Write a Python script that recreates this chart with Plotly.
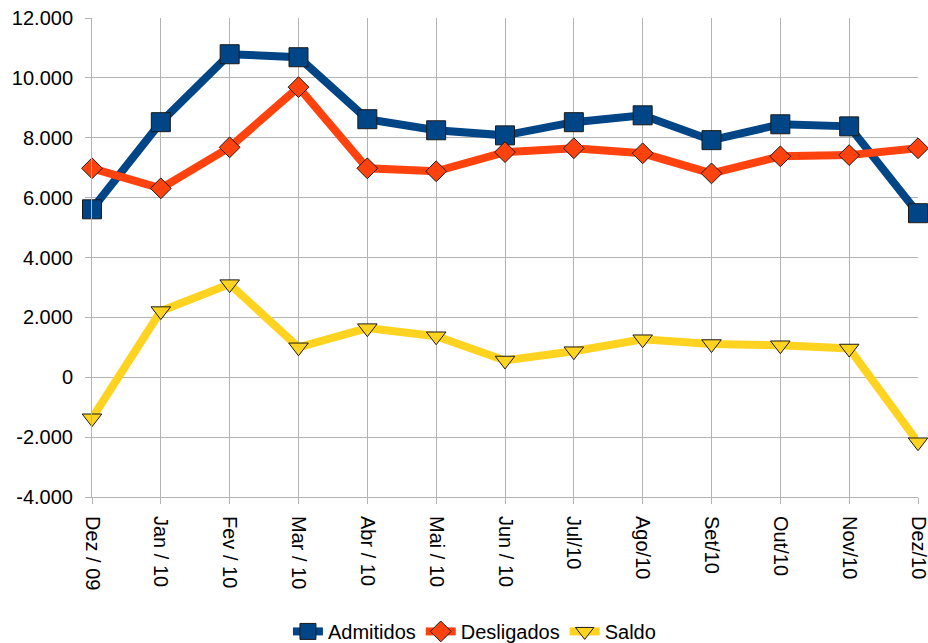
import plotly.graph_objects as go

# months on the category axis
meses = ["Dez / 09", "Jan / 10", "Fev / 10", "Mar / 10", "Abr / 10", "Mai / 10",
         "Jun / 10", "Jul/10", "Ago/10", "Set/10", "Out/10", "Nov/10", "Dez/10"]

admitidos = [5610, 8520, 10790, 10690, 8620, 8250, 8080, 8520, 8750, 7920, 8450, 8380, 5480]
desligados = [6980, 6310, 7680, 9690, 6980, 6880, 7520, 7650, 7480, 6810, 7380, 7420, 7650]
saldo = [-1370, 2210, 3110, 1000, 1640, 1370, 560, 870, 1270, 1110, 1070, 960, -2170]

y_ticks = [-4000, -2000, 0, 2000, 4000, 6000, 8000, 10000, 12000]
y_labels = ["-4.000", "-2.000", "0", "2.000", "4.000", "6.000", "8.000", "10.000", "12.000"]

x = list(range(len(meses)))

fig = go.Figure()
fig.add_trace(go.Scatter(
    x=x, y=admitidos, name="Admitidos", mode="lines+markers", cliponaxis=False,
    line=dict(color="#004586", width=8),
    marker=dict(symbol="square", size=19, color="#004586", line=dict(color="#1a1a1a", width=1))))
fig.add_trace(go.Scatter(
    x=x, y=desligados, name="Desligados", mode="lines+markers", cliponaxis=False,
    line=dict(color="#ff420e", width=8),
    marker=dict(symbol="diamond", size=16, color="#ff420e", line=dict(color="#1a1a1a", width=1))))
fig.add_trace(go.Scatter(
    x=x, y=saldo, name="Saldo", mode="lines+markers", cliponaxis=False,
    line=dict(color="#ffd320", width=8),
    marker=dict(symbol="triangle-down", size=17, color="#ffd320", line=dict(color="#1a1a1a", width=1))))

fig.update_layout(
    width=928, height=643,
    plot_bgcolor="white", paper_bgcolor="white",
    margin=dict(l=92, r=10, t=18, b=146),
    font=dict(family="Liberation Sans, Arial, sans-serif", size=20, color="#000000"),
    showlegend=True,
    legend=dict(orientation="h", x=0.463, xanchor="center",
                yref="container", y=0.018, yanchor="middle",
                font=dict(size=20), itemwidth=30, tracegroupgap=0),
)
fig.update_xaxes(
    range=[0, 12], tickvals=x, ticktext=meses, tickangle=90,
    showgrid=True, gridcolor="#b3b3b3", gridwidth=1, automargin=False,
    ticklabeloverflow="allow", ticklabelstandoff=8,
    showline=True, linecolor="#b3b3b3", ticks="outside", ticklen=6, tickcolor="#b3b3b3",
    zeroline=False, tickfont=dict(size=20))
fig.update_yaxes(
    range=[-4000, 12000], tickvals=y_ticks, ticktext=y_labels,
    showgrid=True, gridcolor="#b3b3b3", gridwidth=1, automargin=False,
    ticklabeloverflow="allow", ticklabelstandoff=8,
    showline=True, linecolor="#b3b3b3", ticks="outside", ticklen=6, tickcolor="#b3b3b3",
    zeroline=False, tickfont=dict(size=20))

# drop the default page margin so the figure fills the window exactly
fig.write_html("out.html", config={"displayModeBar": False},
               post_script="document.body.style.margin = '0';")
